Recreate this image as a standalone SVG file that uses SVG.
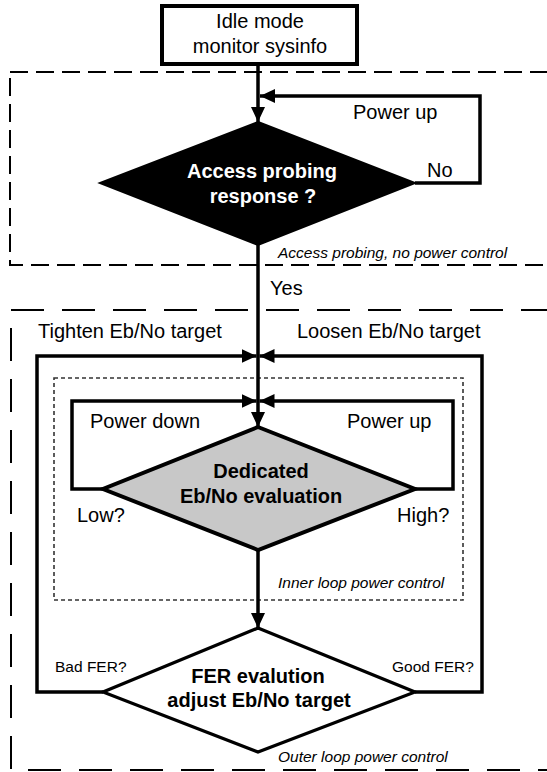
<svg xmlns="http://www.w3.org/2000/svg" width="547" height="772" viewBox="0 0 547 772">
<defs>
<style>
text{font-family:"Liberation Sans",Arial,sans-serif;fill:#000}
.r{font-size:20px}
.b{font-size:20px;font-weight:bold}
.s{font-size:15.5px}
.i{font-size:15.5px;font-style:italic}
.c{text-anchor:middle}
.ln{fill:none;stroke:#000;stroke-width:3.5}
.zone1{fill:none;stroke:#000;stroke-width:2;stroke-dasharray:18 8}
.zone2{fill:none;stroke:#000;stroke-width:2;stroke-dasharray:33 18}
.dot{fill:none;stroke:#333;stroke-width:1.6;stroke-dasharray:4 3}
</style>
<marker id="ah" markerUnits="userSpaceOnUse" markerWidth="15" markerHeight="14" refX="15" refY="7" orient="auto">
<path d="M0,0 L15,7 L0,14 z" fill="#000"/>
</marker>
</defs>
<rect width="547" height="772" fill="#fff"/>

<g id="zones">
<rect class="zone1" x="10" y="72" width="560" height="193"/>
<text class="i" x="278" y="258">Access probing, no power control</text>
<rect class="zone2" x="11" y="310" width="560" height="460"/>
<text class="i" x="278" y="762">Outer loop power control</text>
<rect class="dot" x="54" y="378" width="409" height="222"/>
<text class="i" x="278" y="588">Inner loop power control</text>
</g>

<g id="connectors">
<path class="ln" d="M258,64 V122" marker-end="url(#ah)"/>
<path class="ln" d="M415,183 H480 V96 H260" marker-end="url(#ah)"/>
<path class="ln" d="M258,245 V427" marker-end="url(#ah)"/>
<path class="ln" d="M103,692 H37 V356 H256.5" marker-end="url(#ah)"/>
<path class="ln" d="M415,692 H482 V356 H259.5" marker-end="url(#ah)"/>
<path class="ln" d="M103,489 H72 V401 H256.5" marker-end="url(#ah)"/>
<path class="ln" d="M415,489 H453 V401 H259.5" marker-end="url(#ah)"/>
<path class="ln" d="M258,550 V628" marker-end="url(#ah)"/>
<text class="r" x="353" y="119">Power up</text>
<text class="r" x="427" y="177">No</text>
<text class="r" x="270" y="295">Yes</text>
<text class="r" x="38" y="338">Tighten Eb/No target</text>
<text class="r" x="297" y="338">Loosen Eb/No target</text>
<text class="r" x="90" y="428">Power down</text>
<text class="r" x="347" y="428">Power up</text>
<text class="r" x="77" y="522">Low?</text>
<text class="r" x="397" y="522">High?</text>
<text class="s" x="55" y="672">Bad FER?</text>
<text class="s" x="392" y="672">Good FER?</text>
</g>

<g id="idle">
<rect x="162" y="6" width="195" height="58" fill="#fff" stroke="#000" stroke-width="4"/>
<text class="r c" x="260" y="28">Idle mode</text>
<text class="r c" x="260" y="53">monitor sysinfo</text>
</g>

<g id="access">
<polygon points="258,122 415,183 258,245 100,183" fill="#000" stroke="#000" stroke-width="2"/>
<text class="b c" x="262" y="178" style="fill:#fff">Access probing</text>
<text class="b c" x="263" y="203" style="fill:#fff">response ?</text>
</g>

<g id="dedicated">
<polygon points="258,427 415,489 258,550 103,489" fill="#c8c8c8" stroke="#000" stroke-width="4" stroke-linejoin="miter"/>
<text class="b c" x="261" y="478">Dedicated</text>
<text class="b c" x="261" y="503">Eb/No evaluation</text>
</g>

<g id="fer">
<polygon points="258,628 415,692 258,752 103,692" fill="#fff" stroke="#000" stroke-width="3.2"/>
<text class="b c" x="258" y="683">FER evalution</text>
<text class="b c" x="259" y="707">adjust Eb/No target</text>
</g>
</svg>
